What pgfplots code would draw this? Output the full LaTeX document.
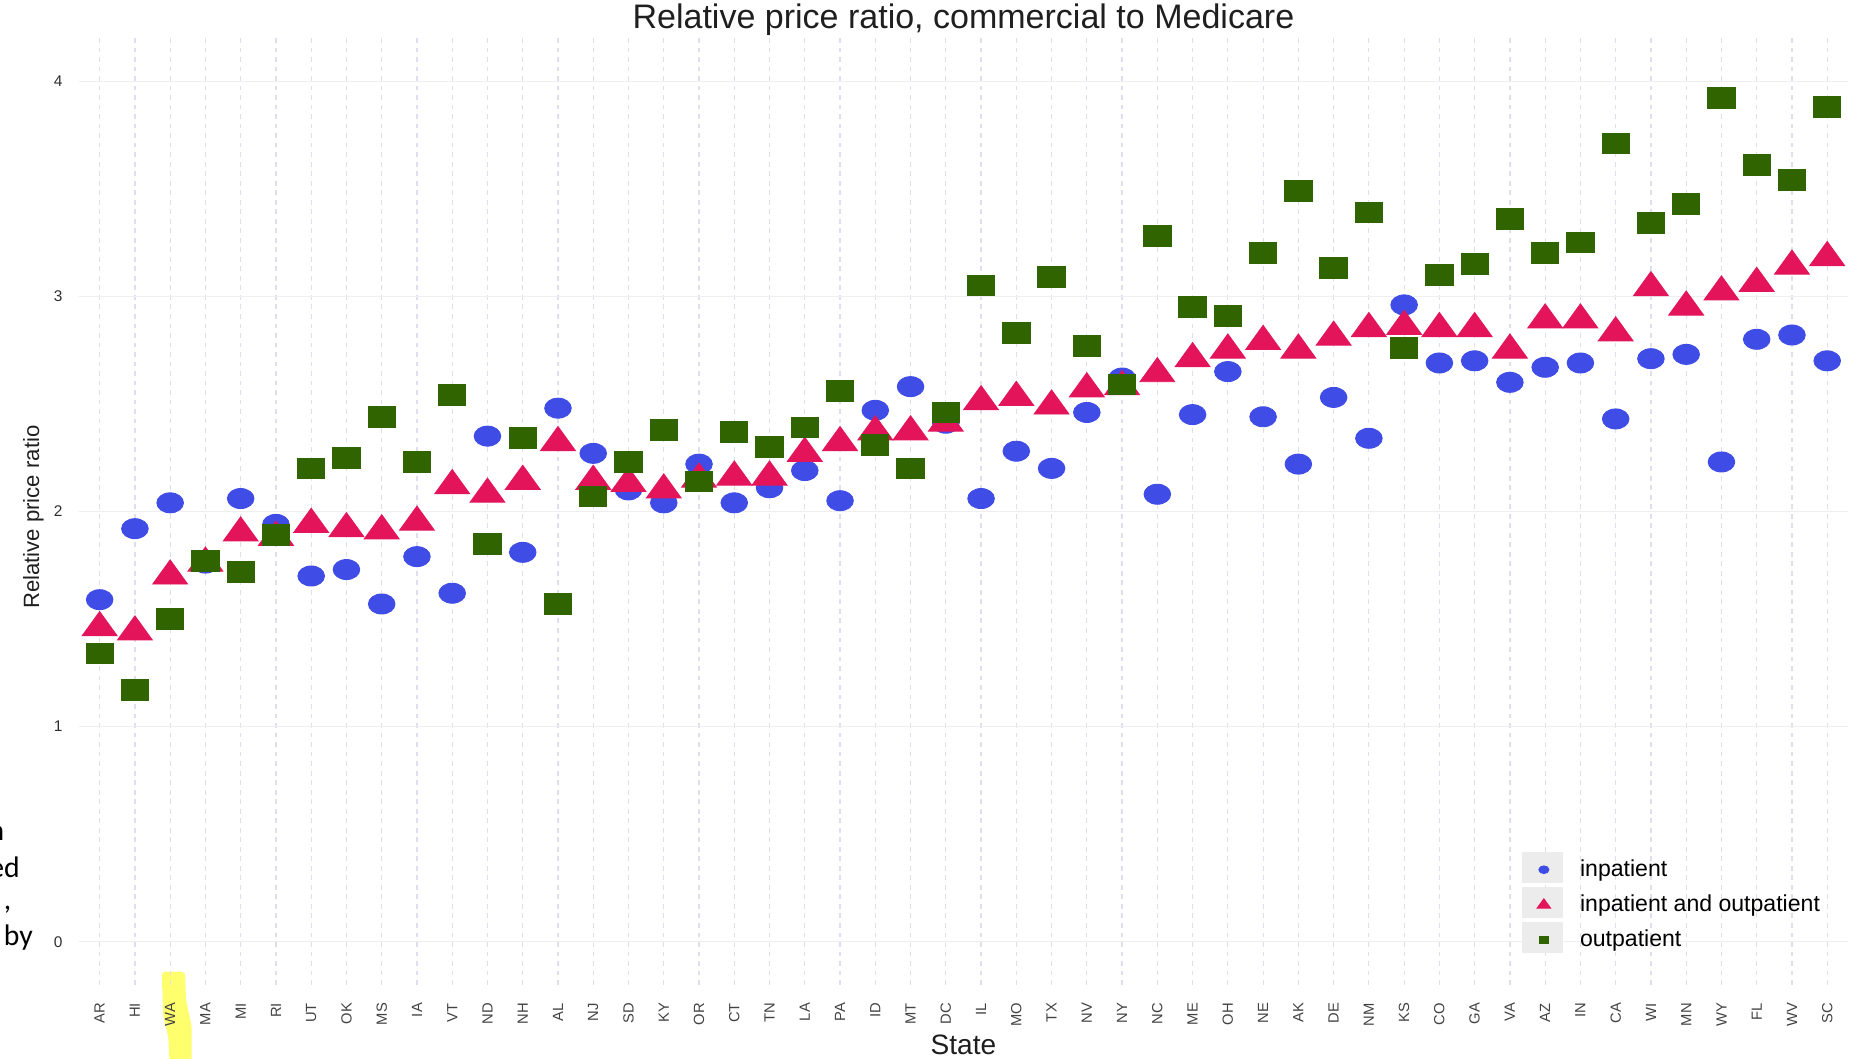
\documentclass[border=0pt]{standalone}
\usepackage{fontspec}
\setmainfont{Liberation Sans}
\newfontfamily\calibri{Carlito}
\usepackage{pgfplots}
\pgfplotsset{compat=1.18}
\usepackage{pgfplotstable}

\definecolor{cin}{RGB}{64,76,230}
\definecolor{cio}{RGB}{228,20,90}
\definecolor{cout}{RGB}{47,100,0}
\definecolor{vgrid}{RGB}{222,222,238}
\definecolor{hgrid}{RGB}{238,238,238}
\definecolor{hl}{RGB}{255,255,110}
\definecolor{keybg}{RGB}{236,236,236}

\pgfplotstableread{
idx st in io out
0 AR 1.59 1.46 1.34
1 HI 1.92 1.44 1.17
2 WA 2.04 1.70 1.50
3 MA 1.76 1.76 1.77
4 MI 2.06 1.90 1.72
5 RI 1.94 1.88 1.89
6 UT 1.70 1.94 2.20
7 OK 1.73 1.92 2.25
8 MS 1.57 1.91 2.44
9 IA 1.79 1.95 2.23
10 VT 1.62 2.12 2.54
11 ND 2.35 2.08 1.85
12 NH 1.81 2.14 2.34
13 AL 2.48 2.32 1.57
14 NJ 2.27 2.14 2.07
15 SD 2.10 2.13 2.23
16 KY 2.04 2.10 2.38
17 OR 2.22 2.15 2.14
18 CT 2.04 2.16 2.37
19 TN 2.11 2.16 2.30
20 LA 2.19 2.27 2.39
21 PA 2.05 2.32 2.56
22 ID 2.47 2.37 2.31
23 MT 2.58 2.37 2.20
24 DC 2.41 2.41 2.46
25 IL 2.06 2.51 3.05
26 MO 2.28 2.53 2.83
27 TX 2.20 2.49 3.09
28 NV 2.46 2.57 2.77
29 NY 2.62 2.58 2.59
30 NC 2.08 2.64 3.28
31 ME 2.45 2.71 2.95
32 OH 2.65 2.75 2.91
33 NE 2.44 2.79 3.20
34 AK 2.22 2.75 3.49
35 DE 2.53 2.81 3.13
36 NM 2.34 2.85 3.39
37 KS 2.96 2.86 2.76
38 CO 2.69 2.85 3.10
39 GA 2.70 2.85 3.15
40 VA 2.60 2.75 3.36
41 AZ 2.67 2.89 3.20
42 IN 2.69 2.89 3.25
43 CA 2.43 2.83 3.71
44 WI 2.71 3.04 3.34
45 MN 2.73 2.95 3.43
46 WY 2.23 3.02 3.92
47 FL 2.80 3.06 3.61
48 WV 2.82 3.14 3.54
49 SC 2.70 3.18 3.88
}\data

\begin{document}
\begin{tikzpicture}
% fragments of slide text at the left edge
\node[anchor=base east, inner sep=0pt, font=\calibri\fontsize{12.5}{14}\selectfont] at (-31pt,60.5pt) {n};
\node[anchor=base east, inner sep=0pt, font=\calibri\fontsize{12.5}{14}\selectfont] at (-24.5pt,45pt) {ed};
\node[anchor=base east, inner sep=0pt, font=\calibri\fontsize{12.5}{14}\selectfont] at (-28pt,31.5pt) {,};
\node[anchor=base east, inner sep=0pt, font=\calibri\fontsize{12.5}{14}\selectfont] at (-19pt,16.5pt) {by};
\begin{axis}[
  set layers=standard,
  clip=false,
  scale only axis, width=744pt, height=398pt,
  xmin=-0.6, xmax=49.6, ymin=-0.2, ymax=4.2,
  xtick={0,...,49},
  xticklabels={AR,HI,WA,MA,MI,RI,UT,OK,MS,IA,VT,ND,NH,AL,NJ,SD,KY,OR,CT,TN,LA,PA,ID,MT,DC,IL,MO,TX,NV,NY,NC,ME,OH,NE,AK,DE,NM,KS,CO,GA,VA,AZ,IN,CA,WI,MN,WY,FL,WV,SC},
  ytick={0,1,2,3,4},
  axis line style={draw=none},
  major tick length=0pt,
  tick style={draw=none},
  xmajorgrids, ymajorgrids,
  x grid style={vgrid, dash pattern=on 2pt off 2pt, line width=0.5pt},
  y grid style={hgrid, line width=0.5pt},
  /pgf/number format/assume math mode=true,
  xticklabel style={rotate=90, anchor=east, inner sep=0pt, font=\fontsize{6.2}{7}\selectfont, text=black!74},
  xticklabel shift=7.5pt,
  yticklabel style={anchor=east, inner sep=0pt, font=\fontsize{6.5}{7}\selectfont, text=black!82},
  yticklabel shift=6.5pt,
  title={Relative price ratio, commercial to Medicare},
  every axis title/.style={at={(axis description cs:0.5,1.01005)}, anchor=base, inner sep=0pt, font=\fontsize{14.3}{16}\selectfont, text=black!88},
  xlabel={State},
  xlabel style={at={(axis description cs:0.5,-0.0741)}, anchor=base, inner sep=0pt, font=\fontsize{11.8}{13}\selectfont, text=black!88},
  ylabel={Relative price ratio},
  ylabel style={at={(axis description cs:-0.02218,0.494)}, anchor=base, inner sep=0pt, font=\fontsize{9.3}{11}\selectfont, text=black!88},
  legend style={at={(axis description cs:0.8239,0.1328)}, anchor=north west, draw=none, fill=none, inner sep=0pt, font=\fontsize{9.7}{11}\selectfont, row sep=6.3pt, column sep=12.4pt, nodes={inner sep=0pt}},
  legend cell align=left,
  legend image code/.code={\draw[#1] plot coordinates {(0pt,0pt)};},
]
\begin{pgfonlayer}{axis background}
\fill[hl, rounded corners=1.5pt] (rel axis cs:0.04700,0.01387) -- (rel axis cs:0.04792,-0.03367) -- (rel axis cs:0.05074,-0.05477) -- (rel axis cs:0.05130,-0.08100) -- (rel axis cs:0.06398,-0.08100) -- (rel axis cs:0.06398,-0.04422) -- (rel axis cs:0.06075,-0.01608) -- (rel axis cs:0.06017,0.01387) -- cycle;
\end{pgfonlayer}
\fill[keybg] (rel axis cs:0.8155,0.1406) rectangle (rel axis cs:0.8390,0.1072);
\fill[keybg] (rel axis cs:0.8155,0.1036) rectangle (rel axis cs:0.8390,0.0702);
\fill[keybg] (rel axis cs:0.8155,0.0667) rectangle (rel axis cs:0.8390,0.0333);
\addplot[only marks, mark=*, mark size=4.2pt, color=cin, mark options={xscale=1.33, draw=cin, fill=cin}, legend image post style={mark size=1.6pt}] table[x=idx, y=in] {\data};
\addlegendentry{inpatient}
\addplot[only marks, mark=triangle*, mark size=6.73pt, color=cio, mark options={xscale=1.25, draw=cio, fill=cio}, on layer=pre main, legend image post style={mark size=2.6pt}] table[x=idx, y=io] {\data};
\addlegendentry{inpatient and outpatient}
\addplot[only marks, mark=square*, mark size=4.35pt, color=cout, mark options={xscale=1.32, draw=cout, fill=cout}, legend image post style={mark size=1.5pt}] table[x=idx, y=out] {\data};
\addlegendentry{outpatient}
\end{axis}
\pgfresetboundingbox
\useasboundingbox (-33pt,-31pt) rectangle (751pt,414pt);
\end{tikzpicture}
\end{document}
